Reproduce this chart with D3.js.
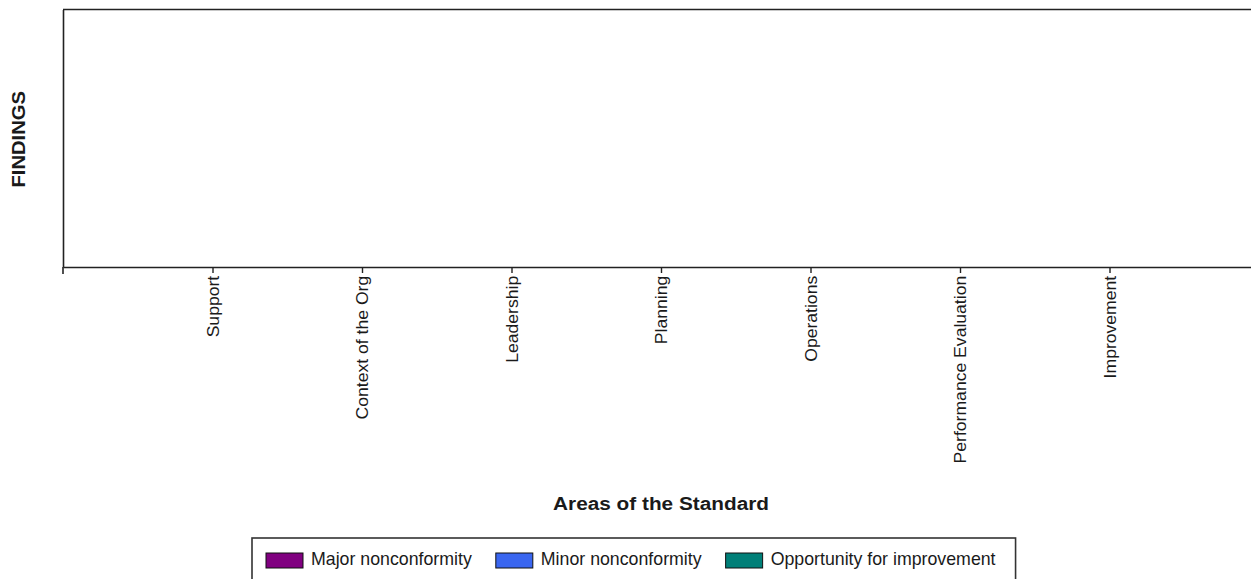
<!DOCTYPE html>
<html>
<head>
<meta charset="utf-8">
<script src="https://cdn.jsdelivr.net/npm/d3@7"></script>
<style>
  html, body { margin: 0; padding: 0; background: #fff; overflow: hidden; }
  svg { display: block; }
  text { font-family: "Liberation Sans", Arial, sans-serif; fill: #1a1a1a; }
</style>
</head>
<body>
<svg id="chart" width="1251" height="579"></svg>
<script>
// ---- data ----
const categories = ["Support", "Context of the Org", "Leadership", "Planning", "Operations", "Performance Evaluation", "Improvement"];
const seriesNames = ["Major nonconformity", "Minor nonconformity", "Opportunity for improvement"];
const seriesColors = ["#800080", "#3a66f0", "#007f78"];
const majorValues = [0, 0, 0, 0, 0, 0, 0];
const minorValues = [0, 0, 0, 0, 0, 0, 0];
const opportunityValues = [0, 0, 0, 0, 0, 0, 0];
const xTitle = "Areas of the Standard";
const yTitle = "FINDINGS";

// ---- layout ----
const svg = d3.select("#chart");
const plot = { left: 63, top: 9.5, right: 1259, bottom: 267 };
const lineColor = "#222";

const x = d3.scalePoint().domain(categories).range([plot.left, plot.right]).padding(1);
const seriesValues = [majorValues, minorValues, opportunityValues];
const maxVal = d3.max(seriesValues.flat());
const y = d3.scaleLinear().domain([0, Math.max(1, maxVal)]).range([plot.bottom, plot.top]);
const inner = d3.scaleBand().domain(seriesNames).range([-x.step() * 0.3, x.step() * 0.3]).padding(0.05);

// bars (all values are zero in this chart, so they have no height)
const barData = [];
categories.forEach((c, i) => seriesNames.forEach((s, j) => barData.push({ c, s, v: seriesValues[j][i], color: seriesColors[j] })));
svg.append("g").selectAll("rect").data(barData.filter(d => d.v > 0)).join("rect")
  .attr("x", d => x(d.c) + inner(d.s))
  .attr("width", inner.bandwidth())
  .attr("y", d => y(d.v))
  .attr("height", d => y(0) - y(d.v))
  .attr("fill", d => d.color)
  .attr("stroke", "#000");

// frame (top and right)
svg.append("path")
  .attr("d", `M${plot.left},${plot.top}H${plot.right}V${plot.bottom}`)
  .attr("fill", "none").attr("stroke", lineColor).attr("stroke-width", 1.6);

// y axis (no tick labels)
const yAxis = d3.axisLeft(y).tickValues([]).tickSizeOuter(0);
const gy = svg.append("g").attr("transform", `translate(${plot.left},0)`).call(yAxis);
gy.select(".domain").attr("stroke", lineColor).attr("stroke-width", 1.6);

// x axis
const xAxis = d3.axisBottom(x).tickSize(6).tickSizeOuter(0);
const gx = svg.append("g").attr("transform", `translate(0,${plot.bottom})`).call(xAxis);
gx.select(".domain").attr("stroke", lineColor).attr("stroke-width", 1.6);
gx.selectAll(".tick line").attr("stroke", lineColor).attr("stroke-width", 1.4);
gx.selectAll(".tick text")
  .attr("transform", "rotate(-90) scale(1.1,1)")
  .attr("x", -8).attr("y", 0).attr("dy", "0.35em")
  .style("text-anchor", "end")
  .style("font-size", "16px")
  .style("font-family", "'Liberation Sans', Arial, sans-serif")
  .attr("fill", "#1a1a1a");
// origin tick at left end of the x axis
gx.append("line").attr("x1", plot.left).attr("x2", plot.left).attr("y1", 0).attr("y2", 7)
  .attr("stroke", lineColor).attr("stroke-width", 1.6);

// axis titles
svg.append("g").attr("transform", `translate(${(plot.left + plot.right) / 2},510) scale(1.094,1)`)
  .append("text").attr("text-anchor", "middle")
  .style("font-size", "19px").style("font-weight", "bold").text(xTitle);

svg.append("g").attr("transform", `translate(25,${(plot.top + plot.bottom) / 2 + 1}) rotate(-90) scale(1.065,1)`)
  .append("text").attr("text-anchor", "middle")
  .style("font-size", "19px").style("font-weight", "bold").text(yTitle);

// legend
const legend = svg.append("g");
const legStartX = 266, swW = 37, swH = 15, swY = 553, textGap = 8, itemGap = 24, baseline = 565;
let cx = legStartX;
seriesNames.forEach((name, i) => {
  legend.append("rect").attr("x", cx).attr("y", swY).attr("width", swW).attr("height", swH)
    .attr("fill", seriesColors[i]).attr("stroke", "#111").attr("stroke-width", 1);
  const t = legend.append("text").attr("x", cx + swW + textGap).attr("y", baseline)
    .style("font-size", "17.75px").text(name);
  cx = cx + swW + textGap + t.node().getComputedTextLength() + itemGap;
});
const legEnd = cx - itemGap + 20;
legend.insert("rect", ":first-child")
  .attr("x", 252).attr("y", 538).attr("width", legEnd - 252).attr("height", 60)
  .attr("fill", "#fff").attr("stroke", "#333").attr("stroke-width", 1.6);
</script>
</body>
</html>
